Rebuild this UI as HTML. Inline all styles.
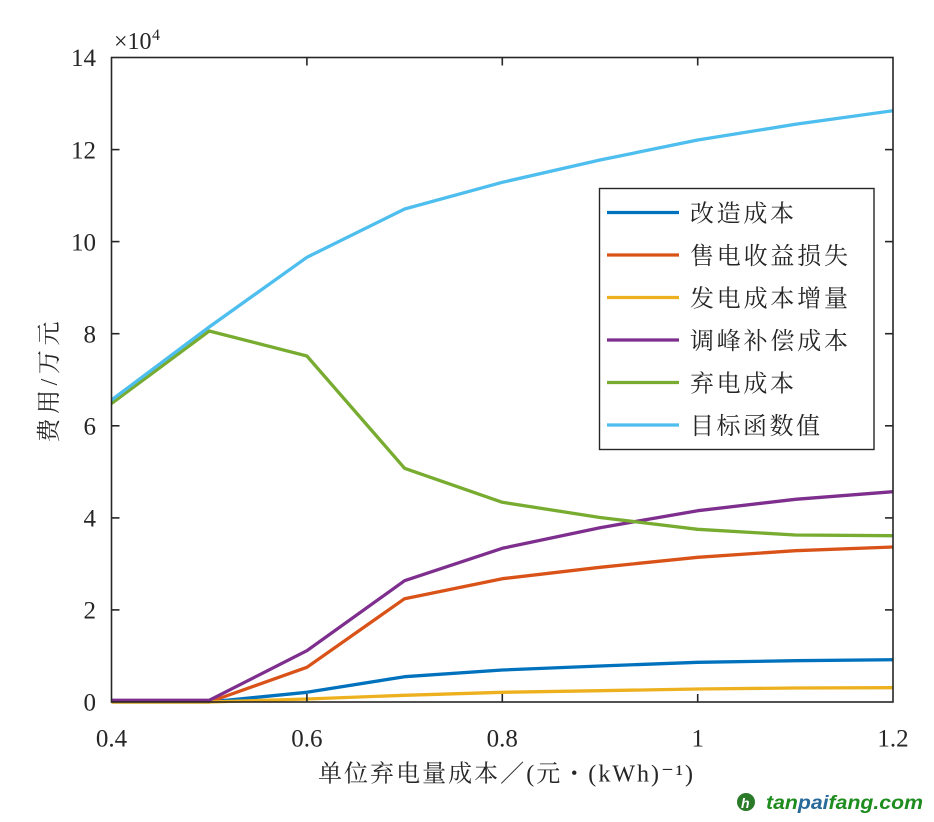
<!DOCTYPE html>
<html>
<head>
<meta charset="utf-8">
<style>
html,body{margin:0;padding:0;background:#fff;}
svg{display:block;}
.tk{font-family:"Liberation Serif","Noto Serif CJK SC",serif;font-size:25px;fill:#262626;}
.cj{font-family:"Liberation Serif","Noto Serif CJK SC",serif;font-size:24px;fill:#262626;}
</style>
</head>
<body>
<svg width="934" height="822" viewBox="0 0 934 822" xmlns="http://www.w3.org/2000/svg">
<rect x="0" y="0" width="934" height="822" fill="#fff"/>

<!-- series -->
<g fill="none" stroke-width="3.3" stroke-linejoin="round">
<polyline stroke="#0072BD" points="111.5,702 209.2,702 306.9,692.3 404.6,676.7 502.3,670 600,666 697.7,662.3 795.4,660.7 893,659.7"/>
<polyline stroke="#D95319" points="111.5,702 209.2,702 306.9,667.3 404.6,598.7 502.3,578.7 600,567.3 697.7,557.3 795.4,550.7 893,547"/>
<polyline stroke="#EDB120" points="111.5,702 209.2,702 306.9,699 404.6,695.3 502.3,692.3 600,690.7 697.7,689 795.4,688 893,687.7"/>
<polyline stroke="#7E2F8E" points="111.5,700.3 209.2,700.3 306.9,650.7 404.6,580.7 502.3,548.3 600,527.7 697.7,510.7 795.4,499.3 893,491.7"/>
<polyline stroke="#77AC30" points="111.5,403.5 209.2,331 306.9,356 404.6,468.3 502.3,502.3 600,517.5 697.7,529.3 795.4,535 893,535.7"/>
<polyline stroke="#4DBEEE" points="111.5,400 209.2,327 306.9,257.3 404.6,209 502.3,182.3 600,160 697.7,140 795.4,124.3 893,110.7"/>
</g>

<!-- axes box -->
<rect x="111.5" y="57.5" width="781.5" height="644.5" fill="none" stroke="#262626" stroke-width="1.6"/>

<!-- ticks -->
<g stroke="#262626" stroke-width="1.6">
<line x1="306.9" y1="702" x2="306.9" y2="694"/>
<line x1="502.3" y1="702" x2="502.3" y2="694"/>
<line x1="697.7" y1="702" x2="697.7" y2="694"/>
<line x1="306.9" y1="57.5" x2="306.9" y2="65.5"/>
<line x1="502.3" y1="57.5" x2="502.3" y2="65.5"/>
<line x1="697.7" y1="57.5" x2="697.7" y2="65.5"/>
<line x1="111.5" y1="609.9" x2="119.5" y2="609.9"/>
<line x1="111.5" y1="517.9" x2="119.5" y2="517.9"/>
<line x1="111.5" y1="425.8" x2="119.5" y2="425.8"/>
<line x1="111.5" y1="333.7" x2="119.5" y2="333.7"/>
<line x1="111.5" y1="241.6" x2="119.5" y2="241.6"/>
<line x1="111.5" y1="149.6" x2="119.5" y2="149.6"/>
<line x1="893" y1="609.9" x2="885" y2="609.9"/>
<line x1="893" y1="517.9" x2="885" y2="517.9"/>
<line x1="893" y1="425.8" x2="885" y2="425.8"/>
<line x1="893" y1="333.7" x2="885" y2="333.7"/>
<line x1="893" y1="241.6" x2="885" y2="241.6"/>
<line x1="893" y1="149.6" x2="885" y2="149.6"/>
</g>

<!-- y tick labels -->
<g class="tk" text-anchor="end">
<text x="96" y="710.7">0</text>
<text x="96" y="618.6">2</text>
<text x="96" y="526.6">4</text>
<text x="96" y="434.5">6</text>
<text x="96" y="342.4">8</text>
<text x="96" y="250.3">10</text>
<text x="96" y="158.3">12</text>
<text x="96" y="66.2">14</text>
</g>
<!-- x tick labels -->
<g class="tk" text-anchor="middle">
<text x="111.5" y="746.5">0.4</text>
<text x="306.9" y="746.5">0.6</text>
<text x="502.3" y="746.5">0.8</text>
<text x="697.7" y="746.5">1</text>
<text x="893" y="746.5">1.2</text>
</g>

<!-- exponent -->
<text x="114" y="49" font-family="Liberation Serif, serif" font-size="24" fill="#262626">×10</text>
<text x="152" y="40" font-family="Liberation Serif, serif" font-size="16" fill="#262626">4</text>

<!-- axis labels -->
<text class="cj" x="318" y="781.5" textLength="375" lengthAdjust="spacing">单位弃电量成本／(元・(kWh)⁻¹)</text>
<text class="cj" transform="translate(57,382) rotate(-90)" text-anchor="middle" textLength="121" lengthAdjust="spacing">费用/万元</text>

<!-- legend -->
<rect x="599.5" y="188.5" width="274.5" height="261" fill="#fff" stroke="#262626" stroke-width="1.4"/>
<g stroke-width="3.3">
<line x1="607" y1="212.5" x2="679" y2="212.5" stroke="#0072BD"/>
<line x1="607" y1="255" x2="679" y2="255" stroke="#D95319"/>
<line x1="607" y1="297.5" x2="679" y2="297.5" stroke="#EDB120"/>
<line x1="607" y1="340" x2="679" y2="340" stroke="#7E2F8E"/>
<line x1="607" y1="382.5" x2="679" y2="382.5" stroke="#77AC30"/>
<line x1="607" y1="425" x2="679" y2="425" stroke="#4DBEEE"/>
</g>
<g class="cj">
<text x="690" y="221.5" textLength="104" lengthAdjust="spacing">改造成本</text>
<text x="690" y="264" textLength="158" lengthAdjust="spacing">售电收益损失</text>
<text x="690" y="306.5" textLength="158" lengthAdjust="spacing">发电成本增量</text>
<text x="690" y="349" textLength="158" lengthAdjust="spacing">调峰补偿成本</text>
<text x="690" y="391.5" textLength="104" lengthAdjust="spacing">弃电成本</text>
<text x="690" y="434" textLength="130" lengthAdjust="spacing">目标函数值</text>
</g>

<!-- watermark -->
<circle cx="746" cy="802" r="9" fill="#2a7a2a"/>
<text x="741" y="808" font-family="Liberation Sans, sans-serif" font-size="14" font-weight="bold" font-style="italic" fill="#fff">h</text>
<text x="766" y="809" font-family="Liberation Sans, sans-serif" font-size="19" font-weight="bold" font-style="italic" fill="#1e8c1e" textLength="157" lengthAdjust="spacingAndGlyphs">tan<tspan fill="#2a6a9a">pai</tspan>fang.com</text>
</svg>
</body>
</html>
